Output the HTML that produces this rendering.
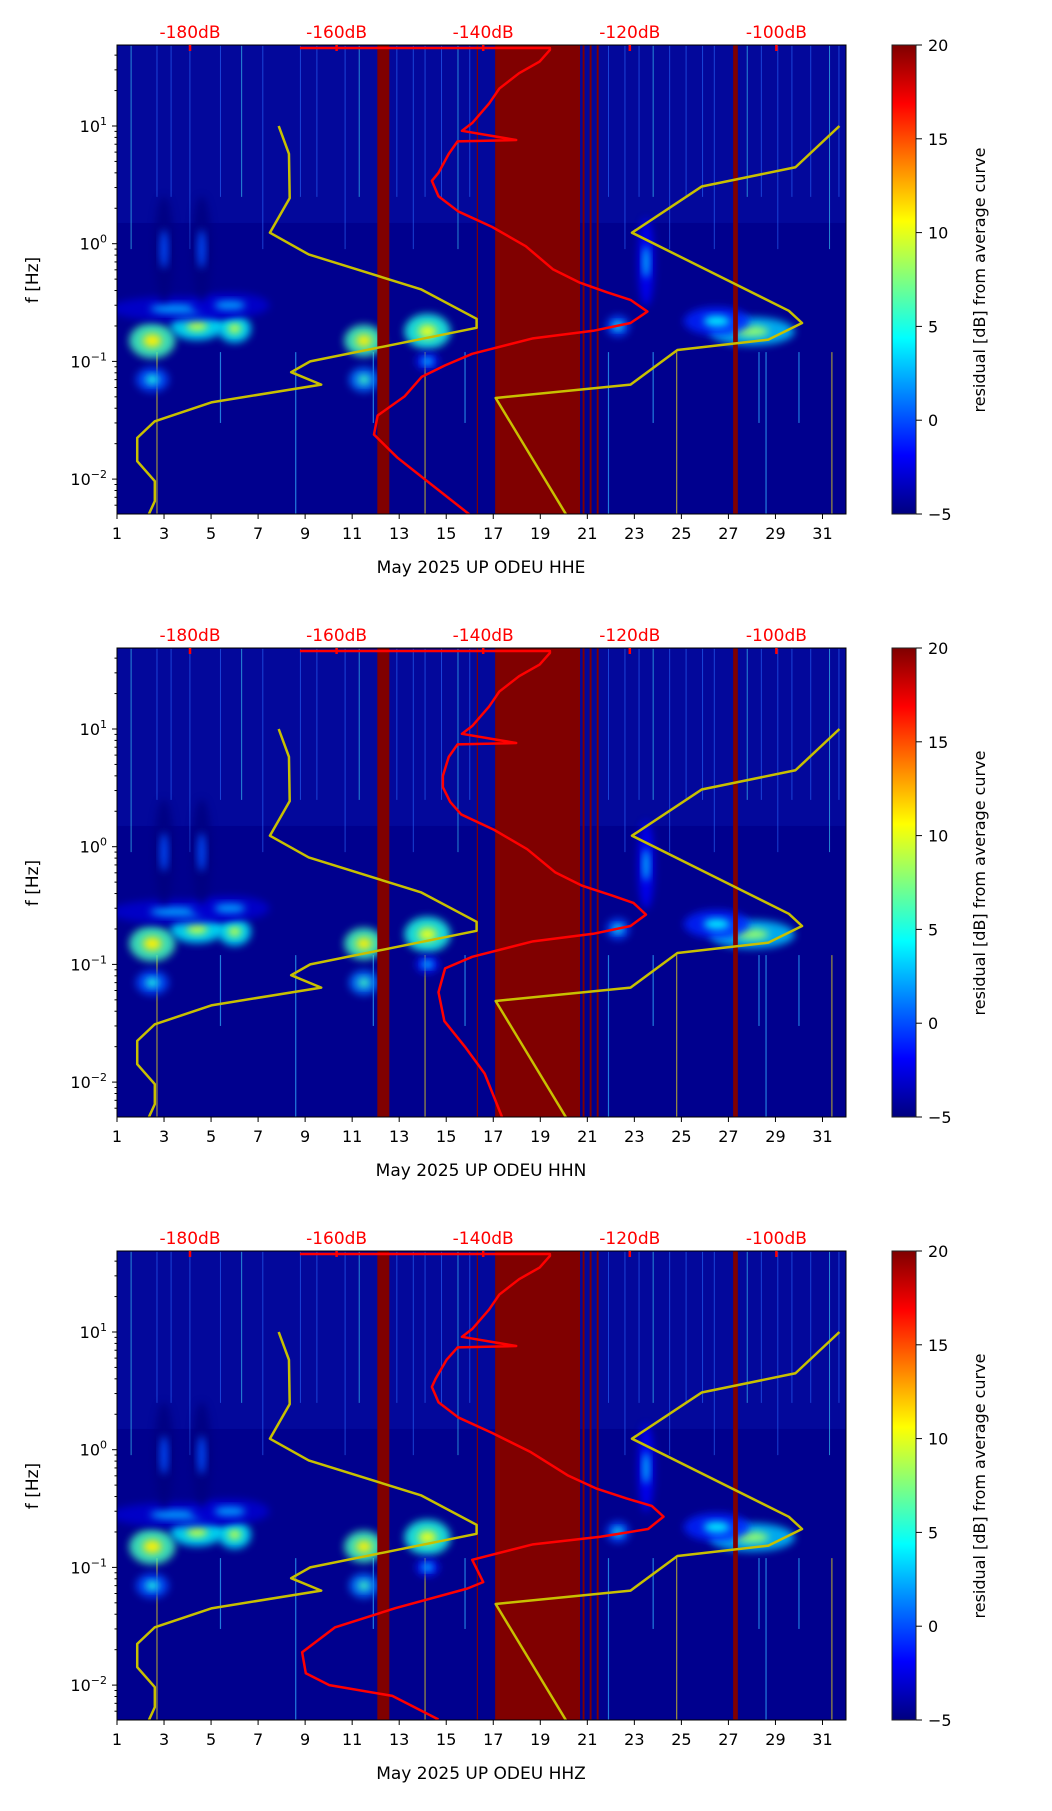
<!DOCTYPE html>
<html><head><meta charset="utf-8"><style>
html,body{margin:0;padding:0;background:#fff}
svg text{font-family:"DejaVu Sans","Liberation Sans",sans-serif}
</style></head><body>
<svg id="fig" xmlns="http://www.w3.org/2000/svg" width="1052" height="1806" viewBox="0 0 1052 1806"></svg>
<script>
// ---- data ----
const panelNames = ["HHE","HHN","HHZ"];
const panelTops = [45,648,1251];
const dayTicks = [1,3,5,7,9,11,13,15,17,19,21,23,25,27,29,31];
const dbTicks = [-180,-160,-140,-120,-100];
const cbTicks = [-5,0,5,10,15,20];
// NLNM (left yellow) dB / Hz
const nlnmDb = [-167.9,-166.5,-166.4,-169.1,-163.8,-148.5,-140.9,-140.9,-163.6,-166.2,-162.1,-177,-184.8,-187.2,-187.2,-184.8,-184.8,-185.7];
const nlnmF  = [10,5.8,2.44,1.24,0.81,0.41,0.23,0.193,0.1,0.081,0.0635,0.045,0.031,0.0224,0.0142,0.0096,0.0065,0.0049];
// NHNM (right yellow)
const nhnmDb = [-91.4,-97.4,-110.2,-119.7,-98.3,-96.5,-101.1,-113.5,-119.9,-138.3,-128.6];
const nhnmF  = [10,4.46,3.06,1.24,0.269,0.212,0.153,0.125,0.0635,0.0489,0.0049];
// red PSD curves per panel
const psdDb1 = [-165,-130.9,-130.9,-132.3,-135.1,-137.8,-139.2,-141.5,-142.9,-135.5,-143.5,-144.7,-146.1,-147,-146.1,-143.4,-138.8,-134.2,-130.5,-126.8,-123.1,-119.9,-117.6,-119.9,-125,-133.2,-141.5,-145.2,-148.4,-150.7,-154.4,-154.9,-151.7,-148,-141.5];
const psdF1  = [46,46,44.3,35.3,28.1,20.8,15.5,10.6,9.1,7.6,7.4,5.8,4.0,3.42,2.53,1.88,1.39,0.953,0.607,0.466,0.386,0.333,0.265,0.212,0.182,0.157,0.116,0.0925,0.0738,0.0506,0.0347,0.0239,0.0152,0.01,0.0048];
const psdDb2 = [-165,-130.9,-130.9,-132.3,-135.1,-137.8,-139.2,-141.5,-142.9,-135.5,-143.5,-144.7,-145.5,-145.5,-144.5,-143,-138.5,-134,-130.2,-126.5,-122.5,-119.5,-117.8,-119.9,-125,-133.2,-141.5,-145.2,-146.1,-145.3,-142.5,-139.8,-137.4];
const psdF2  = [46,46,44.3,35.3,28.1,20.8,15.5,10.6,9.1,7.6,7.4,5.8,4.0,3.2,2.4,1.88,1.39,0.953,0.607,0.466,0.386,0.333,0.265,0.212,0.182,0.157,0.116,0.0925,0.058,0.033,0.02,0.0118,0.005];
const psdDb3 = [-165,-130.9,-130.9,-132.3,-135.1,-137.8,-139.2,-141.5,-142.9,-135.5,-143.5,-145,-146.5,-147,-146.1,-143.4,-138.8,-133.5,-128.5,-124.5,-120.5,-117,-115.4,-117.5,-124,-133.2,-141.5,-140,-142.2,-152,-160.2,-164.7,-164.2,-161,-152.4,-146.1];
const psdF3  = [46,46,44.3,35.3,28.1,20.8,15.5,10.6,9.1,7.6,7.4,5.8,4.0,3.42,2.53,1.88,1.39,0.953,0.607,0.466,0.386,0.333,0.27,0.212,0.182,0.157,0.116,0.075,0.066,0.045,0.031,0.019,0.0126,0.01,0.0081,0.0051];
const psdDbs = [psdDb1,psdDb2,psdDb3];
const psdFs = [psdF1,psdF2,psdF3];
// data-gap bands (day start, day end)
const gapStart = [12.07,17.08,20.8,21.1,21.4,27.2,16.3];
const gapEnd   = [12.58,20.69,20.88,21.18,21.48,27.4,16.35];
// spectral blobs: day, freq, level (dB residual), half-width days, half-height decades
const blobDay = [2.5,4.4,6.0,11.5,14.2,11.5,2.5,22.3,28.0,26.5,23.5,14.2,3.5,5.8,3.0,4.6];
const blobF   = [0.15,0.2,0.19,0.15,0.18,0.07,0.07,0.2,0.18,0.22,0.7,0.1,0.28,0.3,0.9,0.9];
const blobLvl = [11,9,9,11,10,6,5,5,8,4,3,4,2,2,0,0];
const blobW   = [0.7,0.8,0.5,0.6,0.7,0.45,0.5,0.35,1.3,1.0,0.25,0.35,2.0,1.2,0.3,0.3];
const blobH   = [0.1,0.08,0.08,0.09,0.1,0.07,0.07,0.06,0.08,0.08,0.25,0.05,0.07,0.07,0.3,0.3];
// streak days (high-frequency transients)
const hiStreaks = [1.6,2.7,3.3,4.1,5.4,6.3,7.2,8.8,9.5,10.7,11.3,12.9,13.6,14.1,14.8,15.5,16.0,21.9,22.6,23.2,23.8,24.5,25.2,25.9,26.4,27.8,28.4,29.1,29.7,30.5,31.3,31.7];
const loStreaks = [2.7,5.4,8.6,11.9,14.1,15.8,21.9,23.8,24.8,28.3,28.6,30.0,31.4];

// ---- helpers ----
const NS="http://www.w3.org/2000/svg";
const svg=document.getElementById('fig');
function el(tag,attrs,parent){const e=document.createElementNS(NS,tag);for(const k in attrs)e.setAttribute(k,attrs[k]);(parent||svg).appendChild(e);return e;}
const X0=117,X1=846,H=469;
const xDay=d=>X0+(d-1)*(X1-X0)/31;
const xDb=db=>190+(db+180)*7.33;
function jet(v){const t=Math.max(0,Math.min(1,(v+5)/25));
 const stops=[[0,[0,0,128]],[0.125,[0,0,255]],[0.375,[0,255,255]],[0.625,[255,255,0]],[0.875,[255,0,0]],[1,[128,0,0]]];
 for(let i=1;i<stops.length;i++){if(t<=stops[i][0]){const a=stops[i-1],b=stops[i];const u=(t-a[0])/(b[0]-a[0]);
  return 'rgb('+a[1].map((c,j)=>Math.round(c+(b[1][j]-c)*u)).join(',')+')';}}return 'rgb(128,0,0)';}

const defs=el('defs',{});
const blur=el('filter',{id:'blur',x:'-50%',y:'-50%',width:'200%',height:'200%'},defs);
el('feGaussianBlur',{stdDeviation:'4'},blur);
const grad=el('linearGradient',{id:'jetg',x1:'0',y1:'1',x2:'0',y2:'0'},defs);
[[0,'#00007f'],[0.125,'#0000ff'],[0.375,'#00ffff'],[0.625,'#ffff00'],[0.875,'#ff0000'],[1,'#7f0000']].forEach(s=>el('stop',{offset:s[0],'stop-color':s[1]},grad));

panelTops.forEach((T,p)=>{
 const yF=f=>T+81+(1-Math.log10(f))*117.7;
 const cp=el('clipPath',{id:'clip'+p},defs);
 el('rect',{x:X0,y:T,width:X1-X0,height:H},cp);
 const g=el('g',{'clip-path':'url(#clip'+p+')'});
 
 
 el('rect',{x:X0,y:T,width:X1-X0,height:H,fill:'#00008e'},g);
 el('rect',{x:X0,y:yF(48),width:X1-X0,height:yF(1.5)-yF(48),fill:'#0a1cb8',opacity:0.3},g);
 // streaks
 hiStreaks.forEach((d,i)=>{const l=el('line',{x1:xDay(d),x2:xDay(d),y1:yF(48),y2:yF(i%3==0?0.9:2.5),stroke:i%5==0?'#40e0ff':'#2a6cff','stroke-width':1,opacity:0.6},g);
  });
 loStreaks.forEach((d,i)=>{const l=el('line',{x1:xDay(d),x2:xDay(d),y1:yF(0.12),y2:yF(i%2?0.03:0.005),stroke:i%4==0?'#e0d020':'#30b0ff','stroke-width':1.2,opacity:0.7},g);
  });
 // blobs
 blobDay.forEach((d,i)=>{const cx=xDay(d),cy=yF(blobF[i]),rx=blobW[i]*23.5,ry=blobH[i]*117.7;
  const e1=el('ellipse',{cx,cy,rx:rx*1.4,ry:ry*1.5,fill:jet(blobLvl[i]-5),filter:'url(#blur)',opacity:0.85},g);
  
  el('ellipse',{cx,cy,rx:rx*0.55,ry:ry*0.55,fill:jet(blobLvl[i]),filter:'url(#blur)'},g);});
 // gaps
 gapStart.forEach((s,i)=>{const r=el('rect',{x:xDay(s),y:T,width:xDay(gapEnd[i])-xDay(s),height:H,fill:'#800000'},g);
  });
 // NLNM / NHNM
 const line=(dbs,fs,col,w,name)=>{const pl=el('polyline',{points:dbs.map((db,i)=>xDb(db)+','+yF(fs[i])).join(' '),fill:'none',stroke:col,'stroke-width':w,'stroke-linejoin':'round'},g);
  };
 line(nlnmDb,nlnmF,'#c8c000',2.5,'nlnm-curve');
 line(nhnmDb,nhnmF,'#c8c000',2.5,'nhnm-curve');
 line(psdDbs[p],psdFs[p],'#ff0000',2.5,'psd-curve');
 // frame
 const fr=el('rect',{x:X0,y:T,width:X1-X0,height:H,fill:'none',stroke:'#000','stroke-width':1});
 
 // x ticks
 dayTicks.forEach(d=>{el('line',{x1:xDay(d),x2:xDay(d),y1:T+H,y2:T+H+5,stroke:'#000'});
  const t=el('text',{x:xDay(d),y:T+H+25,'font-size':16,'text-anchor':'middle'});t.textContent=d;
  });
 const xt=el('text',{x:481,y:T+528,'font-size':17,'text-anchor':'middle'});xt.textContent='May 2025 UP ODEU  '+panelNames[p];
 
 // y ticks
 for(let e=-3;e<=1;e++){for(let m=1;m<10;m++){const f=m*Math.pow(10,e);const y=yF(f);if(y<T-0.5||y>T+H+0.5)continue;
  el('line',{x1:X0-(m==1?5:2.5),x2:X0,y1:y,y2:y,stroke:'#000'});
  if(m==1){const t=el('text',{x:X0-10,y:y+6,'font-size':16,'text-anchor':'end'});
   
   const b=el('tspan',{},t);b.textContent='10';const s=el('tspan',{dy:-7,'font-size':11},t);s.textContent=(e<0?'\u2212':'')+Math.abs(e);}}}
 const yt=el('text',{x:38,y:T+235,'font-size':17,'text-anchor':'middle',transform:'rotate(-90 38 '+(T+235)+')'});yt.textContent='f [Hz]';
 
 // top dB axis
 dbTicks.forEach(db=>{el('line',{x1:xDb(db),x2:xDb(db),y1:T,y2:T+6,stroke:'#ff0000','stroke-width':2.5});
  const t=el('text',{x:xDb(db),y:T-7,'font-size':17,'text-anchor':'middle',fill:'#ff0000'});t.textContent=db+'dB';
  });
 // colorbar
 const cb=el('rect',{x:892,y:T,width:24,height:H,fill:'url(#jetg)',stroke:'#222','stroke-width':1});
 
 cbTicks.forEach(v=>{const y=T+H-(v+5)/25*H;el('line',{x1:916,x2:922,y1:y,y2:y,stroke:'#000'});
  const t=el('text',{x:928,y:y+6,'font-size':16});t.textContent=v<0?'\u2212'+(-v):v;
  });
 const cl=el('text',{x:985,y:T+235,'font-size':16,'text-anchor':'middle',transform:'rotate(-90 985 '+(T+235)+')'});cl.textContent='residual [dB] from average curve';
 
});
</script>
</body></html>
